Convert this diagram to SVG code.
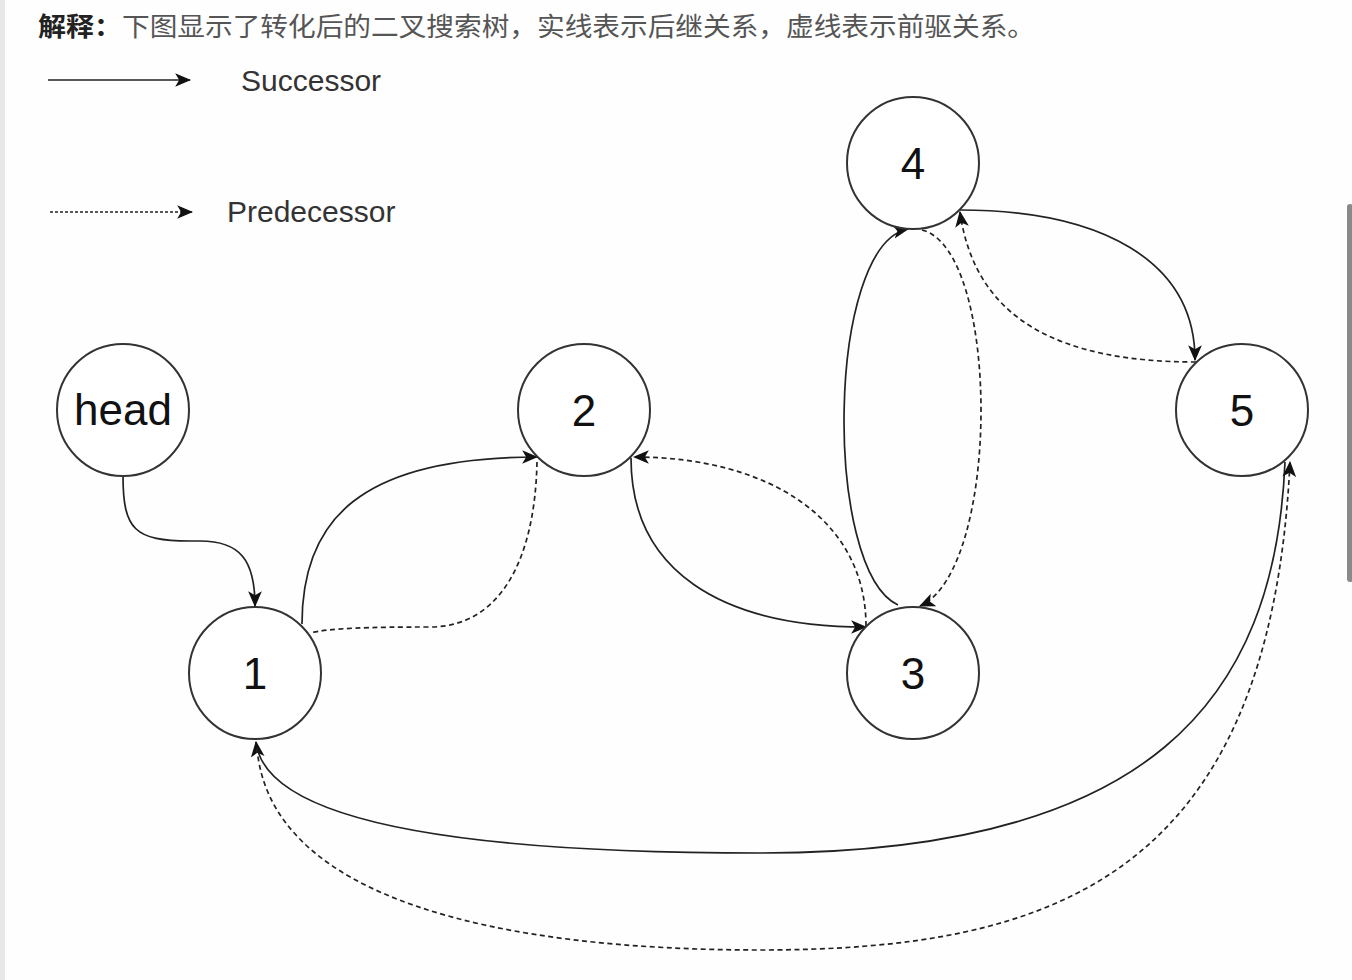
<svg xmlns="http://www.w3.org/2000/svg" width="1352" height="980" viewBox="0 0 1352 980">
<style>
.node circle{fill:#fff;stroke:#333;stroke-width:2}
.node text{font-family:"Liberation Sans",Arial,sans-serif;font-size:44px;fill:#111;text-anchor:middle}
.e{fill:none;stroke:#222;stroke-width:1.7}
.s{marker-end:url(#arr)}
.d{stroke-dasharray:5 3.5}
.leg{font-family:"Liberation Sans",Arial,sans-serif;font-size:30px;fill:#333}
</style>
<defs>
<marker id="arr" markerUnits="userSpaceOnUse" markerWidth="16" markerHeight="14" viewBox="0 0 14 12" refX="13" refY="6" orient="auto">
<path d="M0,0 L14,6 L0,12 L3.5,6 Z" fill="#111"/>
</marker>
</defs>
<rect x="0" y="0" width="1352" height="980" fill="#fefefe"/>
<rect x="0" y="0" width="5" height="980" fill="#e8e8e8"/>
<rect x="1347" y="204" width="6" height="378" rx="3" fill="#8a8a8a"/>
<g id="title">
<text x="38" y="36" font-family="'Noto Sans CJK SC','Liberation Sans',sans-serif" font-size="26" font-weight="bold" fill="#222" textLength="84" lengthAdjust="spacingAndGlyphs">解释：</text>
<text x="122" y="36" font-family="'Noto Sans CJK SC','Liberation Sans',sans-serif" font-size="26" fill="#555" textLength="913" lengthAdjust="spacingAndGlyphs">下图显示了转化后的二叉搜索树，实线表示后继关系，虚线表示前驱关系。</text>
</g>
<g id="legend">
<path class="e s" d="M48,80 L190,80"/>
<text class="leg" x="241" y="91">Successor</text>
<path class="e s" d="M50,212 L192,212" stroke-dasharray="3 2"/>
<text class="leg" x="227" y="222">Predecessor</text>
</g>
<g id="connectors">
<path class="e s" d="M123,476 C123,530 135,541 190,541 L200,541 C240,541 255,560 255,606"/>
<path class="e s" d="M302,624 C302,520 360,457 537,457"/>
<path class="e d" d="M537,462 C535,560 500,627 430,627 C370,627 330,628 310,633"/>
<path class="e s" d="M631,458 C631,570 720,627 866,627"/>
<path class="e d s" d="M866,626 C866,520 770,457 634,457"/>
<path class="e s" d="M898,605 C823,570 826,245 908,229"/>
<path class="e d s" d="M922,230 C1001,250 1001,570 920,606"/>
<path class="e s" d="M960,210 C1100,210 1195,260 1195,360"/>
<path class="e d s" d="M1196,362 C1060,362 975,320 960,212"/>
<path class="e s" d="M1285,462 C1275,700 1150,853 760,853 C450,853 265,820 256,742"/>
<path class="e d s" d="M257,748 C270,900 500,950 760,950 C1050,950 1270,880 1290,462"/>
</g>
<g id="node-head" class="node"><circle cx="123" cy="410" r="66"/><text x="123" y="425">head</text></g>
<g id="node-1" class="node"><circle cx="255" cy="673" r="66"/><text x="255" y="689">1</text></g>
<g id="node-2" class="node"><circle cx="584" cy="410" r="66"/><text x="584" y="426">2</text></g>
<g id="node-3" class="node"><circle cx="913" cy="673" r="66"/><text x="913" y="689">3</text></g>
<g id="node-4" class="node"><circle cx="913" cy="163" r="66"/><text x="913" y="179">4</text></g>
<g id="node-5" class="node"><circle cx="1242" cy="410" r="66"/><text x="1242" y="426">5</text></g>
</svg>
